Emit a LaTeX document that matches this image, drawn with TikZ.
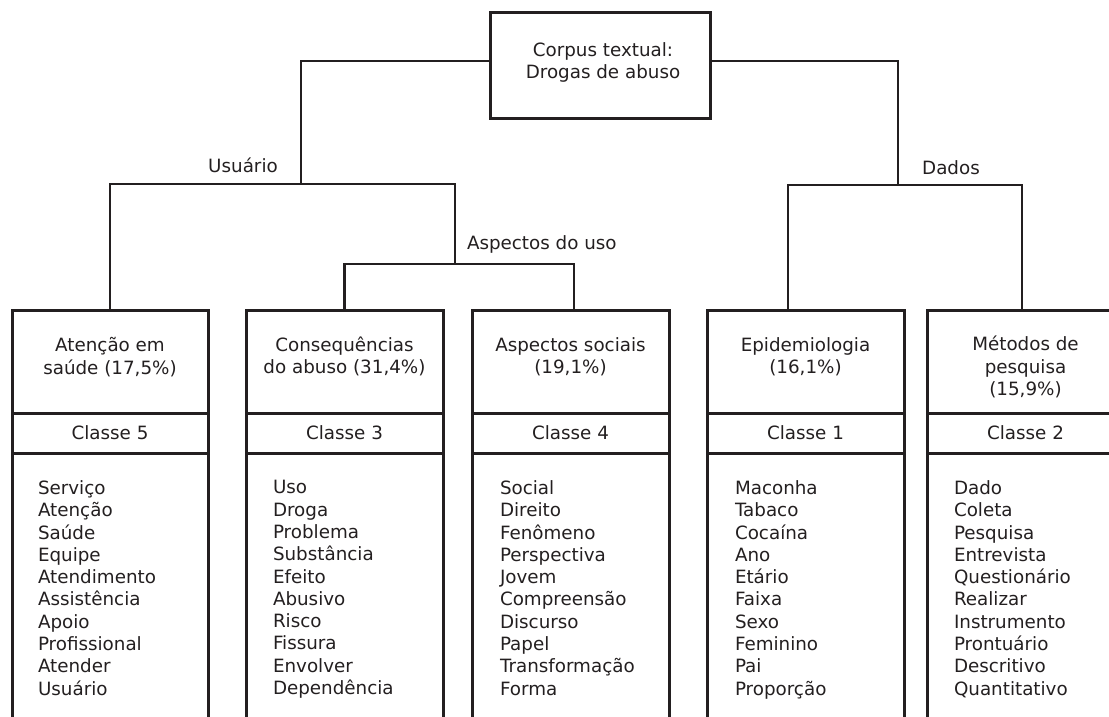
\documentclass[tikz,border=0pt]{standalone}
\usepackage{fontspec}
\setmainfont{DejaVu Sans}
\definecolor{ink}{HTML}{231F20}
\begin{document}
\begin{tikzpicture}[x=1pt,y=-1pt,
  every node/.style={font=\fontsize{18.3}{22.3}\selectfont, text=ink, inner sep=0pt, outer sep=0pt},
  box/.style={draw=ink, line width=3pt, rectangle, minimum width=197pt},
  hdr/.style={box, minimum height=103pt},
  cls/.style={box, minimum height=40pt},
  lst/.style={box, minimum height=300pt},
  htext/.style={align=center, anchor=base},
  words/.style={align=left, anchor=north west},
  lbl/.style={anchor=base},
  conn/.style={draw=ink, line width=2.8pt, line cap=rect, line join=miter}]
\useasboundingbox (0,0) rectangle (1109,717);
\clip (0,0) rectangle (1109,717);

% top box
\node[box, minimum width=220pt, minimum height=105pt] (top) at (600,65.5) {};
\node[htext] (toptext) at (603,78.5) {Corpus textual:\\Drogas de abuso};

% class boxes
\node[hdr, minimum width=196pt] (h1) at (110,361.5) {};
\node[hdr] (h2) at (344.5,361.5) {};
\node[hdr] (h3) at (570.5,361.5) {};
\node[hdr] (h4) at (805.5,361.5) {};
\node[hdr] (h5) at (1025.5,361.5) {};

\foreach \i/\n in {1/5,2/3,3/4,4/1,5/2}{
  \node[cls, anchor=north, minimum width={\ifnum\i=1 196pt\else 197pt\fi}] (c\i) at (h\i.south) {Classe \n};
  \node[lst, anchor=north, minimum width={\ifnum\i=1 196pt\else 197pt\fi}] (l\i) at (c\i.south) {};
}

\node[htext] (t1) at (110,374) {Atenção em\\saúde (17,5\%)};
\node[htext] (t2) at (344.5,373.5) {Consequências\\do abuso (31,4\%)};
\node[htext] (t3) at (570.5,373.5) {Aspectos sociais\\(19,1\%)};
\node[htext] (t4) at (805.5,373.5) {Epidemiologia\\(16,1\%)};
\node[htext] (t5) at (1025.5,395.5) {Métodos de\\pesquisa\\(15,9\%)};

\node[words] (w1) at (38,480.5) {Serviço\\Atenção\\Saúde\\Equipe\\Atendimento\\Assistência\\Apoio\\Profissional\\Atender\\Usuário};
\node[words] (w2) at (273,480.5) {Uso\\Droga\\Problema\\Substância\\Efeito\\Abusivo\\Risco\\Fissura\\Envolver\\Dependência};
\node[words] (w3) at (500,480.5) {Social\\Direito\\Fenômeno\\Perspectiva\\Jovem\\Compreensão\\Discurso\\Papel\\Transformação\\Forma};
\node[words] (w4) at (735,480.5) {Maconha\\Tabaco\\Cocaína\\Ano\\Etário\\Faixa\\Sexo\\Feminino\\Pai\\Proporção};
\node[words] (w5) at (954,480.5) {Dado\\Coleta\\Pesquisa\\Entrevista\\Questionário\\Realizar\\Instrumento\\Prontuário\\Descritivo\\Quantitativo};

% junctions
\coordinate (tl) at (301,61);
\coordinate (tr) at (898,61);
\coordinate (ju) at (301,184);
\coordinate (ja) at (455,264);
\coordinate (jd) at (898,185);

\draw[conn] (top.west |- tl) -- (tl) -- (ju);
\draw[conn] (h1.north) |- (ju) -| (ja);
\draw[conn] (h2.north) |- (ja) -| ([xshift=3.5pt]h3.north);
\draw[conn] (top.east |- tr) -- (tr) -- (jd);
\draw[conn] ([xshift=-17.5pt]h4.north) |- (jd) -| ([xshift=-3.5pt]h5.north);

\node[lbl] (lu) at (243,172) {Usuário};
\node[lbl, anchor=base west] (la) at (467,249) {Aspectos do uso};
\node[lbl] (ld) at (951,174) {Dados};
\end{tikzpicture}
\end{document}
